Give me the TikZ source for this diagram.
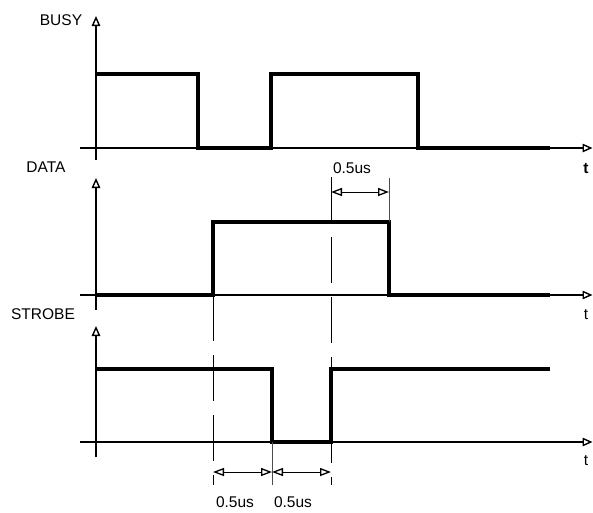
\documentclass[tikz,border=0pt]{standalone}
\usepackage{fontspec}
\setmainfont{Liberation Sans}
\usetikzlibrary{arrows.meta}
\begin{document}
\begin{tikzpicture}[x=1pt,y=-1pt,font=\fontsize{15.5}{18}\selectfont]
        \tikzset{axis/.style={line width=1.3pt,-{Triangle[open,length=10pt,width=8.5pt,line width=1.4pt]}},
                 signal/.style={line width=4.2pt,line join=miter},
                 guide/.style={line width=1pt,dash pattern=on 46pt off 14pt},
                 extline/.style={line width=1pt,black!70},
                 dim/.style={line width=1pt,{Triangle[open,length=11pt,width=8pt,line width=1.3pt]}-{Triangle[open,length=11pt,width=8pt,line width=1.3pt]}},
                 lbl/.style={anchor=base,inner sep=0pt}}
        \useasboundingbox (0,0) rectangle (593,512);
        % labels
        \node[lbl] (busy) at (61,25.5) {BUSY};
        \node[lbl] (data) at (46,172) {DATA};
        \node[lbl] (strobe) at (43,319) {STROBE};
        \node[lbl] (t1) at (586,173) {\bfseries t};
        \node[lbl] (t2) at (586,319) {t};
        \node[lbl] (t3) at (586,465) {t};
        % axes
        \coordinate (busyy0) at (96,160);
        \coordinate (busyy1) at (96,16);
        \coordinate (busyx0) at (80,148);
        \coordinate (busyx1) at (592.5,148);
        \coordinate (datay0) at (96,310);
        \coordinate (datay1) at (96,178);
        \coordinate (datax0) at (80,295);
        \coordinate (datax1) at (592.5,295);
        \coordinate (strobey0) at (96,457);
        \coordinate (strobey1) at (96,326);
        \coordinate (strobex0) at (80,442);
        \coordinate (strobex1) at (592.5,442);
        \draw[axis] (busyy0) -- (busyy1);
        \draw[axis] (busyx0) -- (busyx1);
        \draw[axis] (datay0) -- (datay1);
        \draw[axis] (datax0) -- (datax1);
        \draw[axis] (strobey0) -- (strobey1);
        \draw[axis] (strobex0) -- (strobex1);
        % signals
        \draw[signal] (96,74) -- (198,74) -- (198,148) -- (271,148) -- (271,74) -- (418,74) -- (418,148) -- (550,148);
        \draw[signal] (96,295) -- (213,295) -- (213,222) -- (389,222) -- (389,295) -- (550,295);
        \draw[signal] (96,369) -- (272,369) -- (272,442) -- (331,442) -- (331,369) -- (550,369);
        % timing marks
        \coordinate (g1a) at (213,295);
        \coordinate (g1b) at (213,485);
        \coordinate (g2a) at (331,177);
        \coordinate (g2b) at (331,485);
        \coordinate (e1a) at (389,178);
        \coordinate (e1b) at (389,222);
        \coordinate (e2a) at (272,442);
        \coordinate (e2b) at (272,485);
        \draw[guide] (g1a) -- (g1b);
        \draw[guide] (g2a) -- (g2b);
        \draw[extline] (e1a) -- (e1b);
        \draw[extline] (e2a) -- (e2b);
        \coordinate (d1a) at (331,192);
        \coordinate (d1b) at (389,192);
        \coordinate (d2a) at (213,472);
        \coordinate (d2b) at (272,472);
        \coordinate (d3b) at (331,472);
        \draw[dim] (d1a) -- (d1b);
        \draw[dim] (d2a) -- (d2b);
        \draw[dim] (d2b) -- (d3b);
        \node[lbl] (dt1) at (352,173) {0.5us};
        \node[lbl] (dt2) at (235,507) {0.5us};
        \node[lbl] (dt3) at (293,507) {0.5us};
\end{tikzpicture}
\end{document}
